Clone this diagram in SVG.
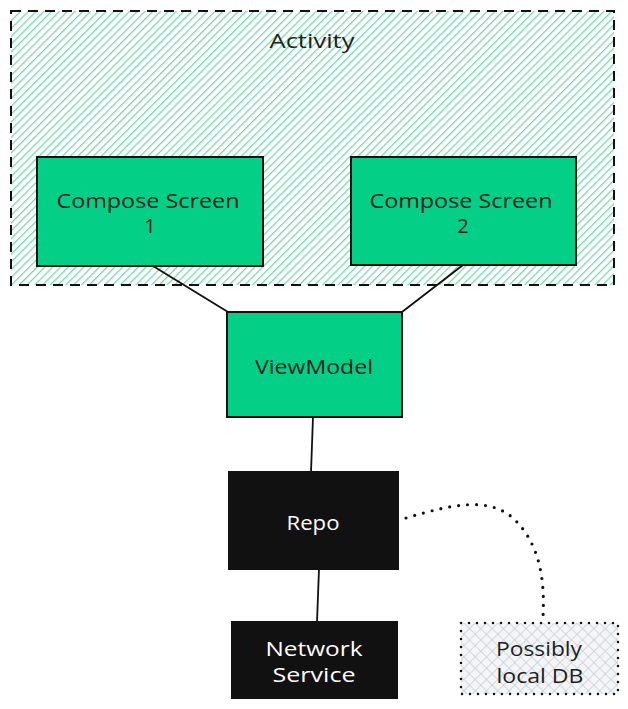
<svg xmlns="http://www.w3.org/2000/svg" width="628" height="709" viewBox="0 0 628 709">
<style>
.lbl{font-family:"Open Sans","Liberation Sans",sans-serif;font-size:20px;text-anchor:middle;}
.dark{fill:#1e1e1e;}
.light{fill:#ffffff;}
.green{fill:#03cf87;stroke:#111;stroke-width:2;}
.black{fill:#111;stroke:#111;stroke-width:2;}
.conn{stroke:#111;stroke-width:1.8;fill:none;stroke-linecap:round;}
.dots{stroke:#111;stroke-width:3.2;fill:none;stroke-linecap:round;stroke-dasharray:0 9;}
</style>
<defs>
<pattern id="hatch" patternUnits="userSpaceOnUse" width="5.5" height="5.5" patternTransform="rotate(45)">
<rect width="5.5" height="5.5" fill="#ffffff"/>
<line x1="0" y1="0" x2="0" y2="5.5" stroke="#6fd6a9" stroke-width="2.4"/>
</pattern>
<pattern id="cross" patternUnits="userSpaceOnUse" width="8" height="8" patternTransform="rotate(45)">
<rect width="8" height="8" fill="#f3f5f7"/>
<line x1="0" y1="0" x2="0" y2="8" stroke="#c0c9d3" stroke-width="1.3"/>
<line x1="0" y1="0" x2="8" y2="0" stroke="#c0c9d3" stroke-width="1.3"/>
</pattern>
</defs>
<g id="activity">
<rect x="11" y="11" width="603" height="274" fill="url(#hatch)" stroke="#111" stroke-width="2" stroke-dasharray="10 7"/>
<text class="lbl dark" x="312" y="48" textLength="85" lengthAdjust="spacingAndGlyphs">Activity</text>
</g>
<g id="connectors">
<line class="conn" x1="153" y1="266" x2="228" y2="312"/>
<line class="conn" x1="463" y1="265" x2="402" y2="312"/>
<line class="conn" x1="313" y1="417" x2="311" y2="472"/>
<line class="conn" x1="319" y1="569" x2="317" y2="622"/>
<path class="dots" d="M406 518 C450 505 490 495 515 520 C540 545 545 580 543 617"/>
</g>
<g id="compose1">
<rect class="green" x="37" y="157" width="226" height="109"/>
<text class="lbl dark" x="148" y="208" textLength="183" lengthAdjust="spacingAndGlyphs">Compose Screen</text>
<text class="lbl dark" x="150" y="233">1</text>
</g>
<g id="compose2">
<rect class="green" x="351" y="157" width="225" height="108"/>
<text class="lbl dark" x="461" y="208" textLength="183" lengthAdjust="spacingAndGlyphs">Compose Screen</text>
<text class="lbl dark" x="463" y="233">2</text>
</g>
<g id="viewmodel">
<rect class="green" x="227" y="312" width="175" height="105"/>
<text class="lbl dark" x="314" y="374" textLength="118" lengthAdjust="spacingAndGlyphs">ViewModel</text>
</g>
<g id="repo">
<rect class="black" x="229" y="472" width="169" height="97"/>
<text class="lbl light" x="313" y="530" textLength="53" lengthAdjust="spacingAndGlyphs">Repo</text>
</g>
<g id="network">
<rect class="black" x="232" y="622" width="165" height="76"/>
<text class="lbl light" x="314" y="656" textLength="97" lengthAdjust="spacingAndGlyphs">Network</text>
<text class="lbl light" x="314" y="682" textLength="83" lengthAdjust="spacingAndGlyphs">Service</text>
</g>
<g id="localdb">
<rect x="461" y="623" width="157" height="71" fill="url(#cross)" stroke="#111" stroke-width="2.5" stroke-dasharray="0 8" stroke-linecap="round"/>
<text class="lbl dark" x="539" y="656" textLength="86" lengthAdjust="spacingAndGlyphs">Possibly</text>
<text class="lbl dark" x="540" y="683" textLength="87" lengthAdjust="spacingAndGlyphs">local DB</text>
</g>
</svg>
